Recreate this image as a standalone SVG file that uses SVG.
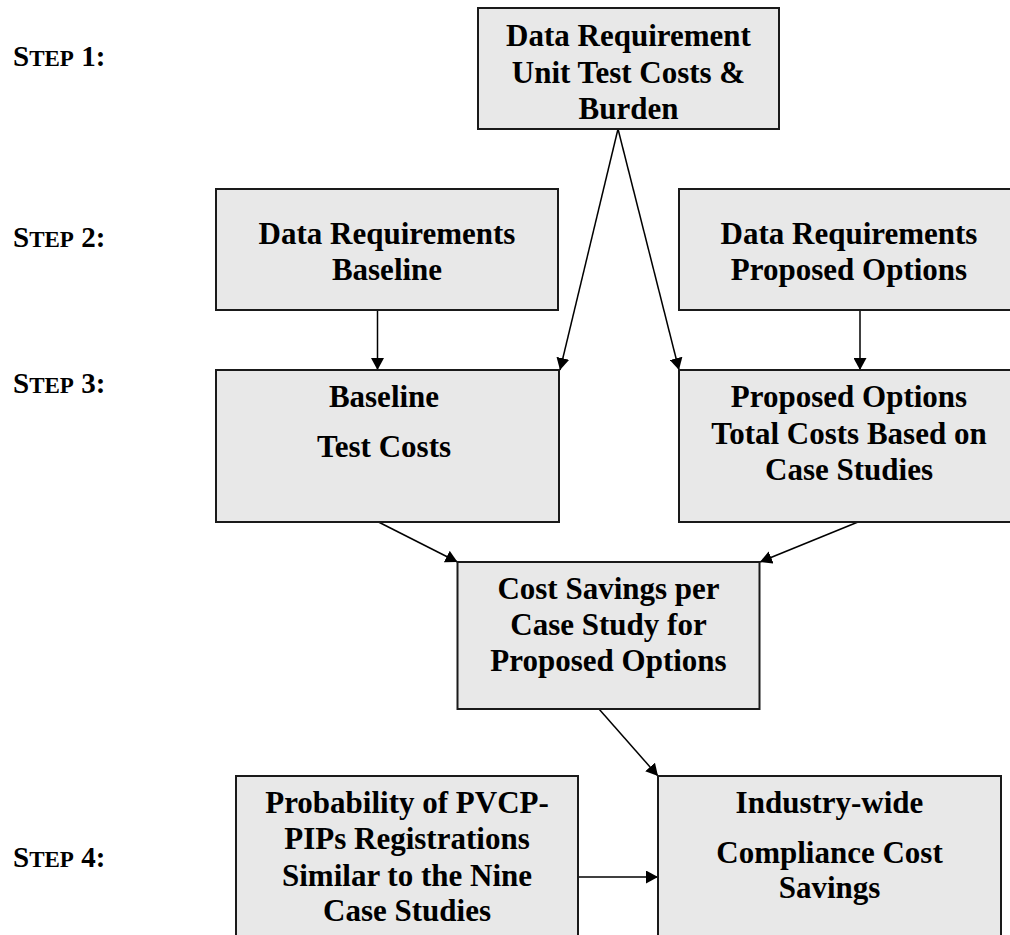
<svg xmlns="http://www.w3.org/2000/svg" width="1010" height="935" viewBox="0 0 1010 935">
<style>
.box{fill:#e8e8e8;stroke:#1a1a1a;stroke-width:2}
.t{font-family:"Liberation Serif","Times New Roman",serif;font-weight:bold;font-size:31px;fill:#000;text-anchor:middle}
.step{font-family:"Liberation Serif","Times New Roman",serif;font-weight:bold;font-size:29px;fill:#000}
.sc{font-size:23px}
.c{stroke:#000;stroke-width:1.5;fill:none;marker-end:url(#ah)}
</style>
<defs>
<marker id="ah" markerUnits="userSpaceOnUse" markerWidth="12" markerHeight="13" refX="12" refY="6.5" orient="auto" viewBox="0 0 12 13">
<path d="M0,0 L12,6.5 L0,13 z" fill="#000"/>
</marker>
</defs>
<rect width="1010" height="935" fill="#fff"/>
<g id="step-labels">
<text class="step" x="13" y="66">S<tspan class="sc">TEP</tspan> 1:</text>
<text class="step" x="13" y="247">S<tspan class="sc">TEP</tspan> 2:</text>
<text class="step" x="13" y="393">S<tspan class="sc">TEP</tspan> 3:</text>
<text class="step" x="13" y="867">S<tspan class="sc">TEP</tspan> 4:</text>
</g>
<g id="connectors">
<line class="c" x1="618" y1="129" x2="560" y2="370"/>
<line class="c" x1="618" y1="129" x2="679" y2="370"/>
<line class="c" x1="377.5" y1="310" x2="377.5" y2="370"/>
<line class="c" x1="860" y1="310" x2="860" y2="370"/>
<line class="c" x1="378.5" y1="522" x2="457.5" y2="562"/>
<line class="c" x1="858" y1="522" x2="760" y2="562"/>
<line class="c" x1="599" y1="709" x2="658" y2="776"/>
<line class="c" x1="578" y1="877" x2="658" y2="877"/>
</g>
<g id="n-unit-costs">
<rect class="box" x="478" y="8" width="301" height="121"/>
<text class="t" x="628.5" y="46">Data Requirement</text>
<text class="t" x="628.5" y="83">Unit Test Costs &amp;</text>
<text class="t" x="628.5" y="119">Burden</text>
</g>
<g id="n-dr-baseline">
<rect class="box" x="216" y="189" width="342" height="121"/>
<text class="t" x="387" y="244">Data Requirements</text>
<text class="t" x="387" y="280">Baseline</text>
</g>
<g id="n-dr-proposed">
<rect class="box" x="679" y="189" width="345" height="121"/>
<text class="t" x="849" y="244">Data Requirements</text>
<text class="t" x="849" y="280">Proposed Options</text>
</g>
<g id="n-baseline-costs">
<rect class="box" x="216" y="370" width="343" height="152"/>
<text class="t" x="384" y="407">Baseline</text>
<text class="t" x="384" y="457">Test Costs</text>
</g>
<g id="n-proposed-costs">
<rect class="box" x="679" y="370" width="345" height="152"/>
<text class="t" x="849" y="407">Proposed Options</text>
<text class="t" x="849" y="444">Total Costs Based on</text>
<text class="t" x="849" y="480">Case Studies</text>
</g>
<g id="n-cost-savings">
<rect class="box" x="457.5" y="562" width="302" height="147"/>
<text class="t" x="608.5" y="599">Cost Savings per</text>
<text class="t" x="608.5" y="635">Case Study for</text>
<text class="t" x="608.5" y="671">Proposed Options</text>
</g>
<g id="n-probability">
<rect class="box" x="236" y="776" width="342" height="180"/>
<text class="t" x="407" y="813">Probability of PVCP-</text>
<text class="t" x="407" y="849">PIPs Registrations</text>
<text class="t" x="407" y="886">Similar to the Nine</text>
<text class="t" x="407" y="921">Case Studies</text>
</g>
<g id="n-industry">
<rect class="box" x="658" y="776" width="343" height="180"/>
<text class="t" x="829.5" y="813">Industry-wide</text>
<text class="t" x="829.5" y="863">Compliance Cost</text>
<text class="t" x="829.5" y="898">Savings</text>
</g>
</svg>
